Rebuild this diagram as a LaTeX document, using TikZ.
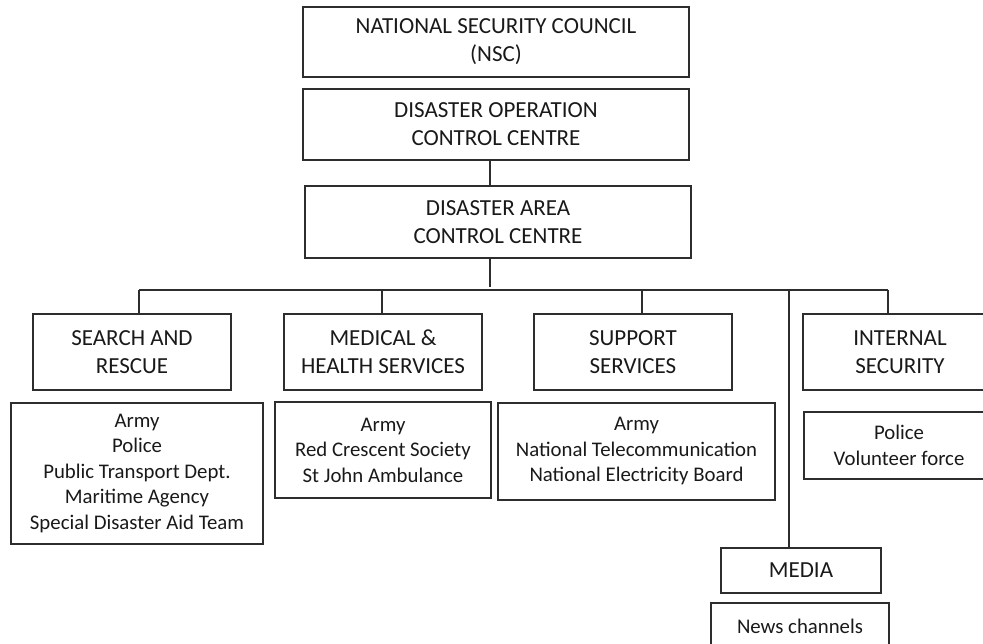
\documentclass[tikz,border=0pt]{standalone}
\usepackage{fontspec}
\setmainfont{Carlito}
\usetikzlibrary{positioning,calc}
\definecolor{inkgrey}{RGB}{45,45,45}
\tikzset{
  base/.style={align=center, inner sep=2pt, text=black!90},
  unit/.style={base, rectangle, draw=inkgrey, line width=1.6pt, font=\fontsize{23}{28}\selectfont},
  members/.style={base, rectangle, draw=inkgrey, line width=1.6pt, font=\fontsize{20.8}{25.5}\selectfont},
  link/.style={draw=inkgrey, line width=1.6pt},
}
\begin{document}
\begin{tikzpicture}[x=1pt,y=-1pt]
  \useasboundingbox (0,0) rectangle (983,644);
  \clip (0,0) rectangle (983,644);
  % command chain
  \node[unit,minimum width=386pt,minimum height=70pt] (nsc) at (496,42) {NATIONAL SECURITY COUNCIL\\(NSC)};
  \node[unit,minimum width=386pt,minimum height=71pt] (docc) at (496,124.5) {DISASTER OPERATION\\CONTROL CENTRE};
  \node[unit,minimum width=386pt,minimum height=72pt] (dacc) at (498,222) {DISASTER AREA\\CONTROL CENTRE};
  % services
  \node[unit,minimum width=198pt,minimum height=76pt] (sar) at (132,352) {SEARCH AND\\RESCUE};
  \node[unit,minimum width=198pt,minimum height=76pt] (mhs) at (383,352) {MEDICAL \&\\HEALTH SERVICES};
  \node[unit,minimum width=198pt,minimum height=76pt] (sup) at (633,352) {SUPPORT\\SERVICES};
  \node[unit,minimum width=194pt,minimum height=76pt] (isec) at (900,352) {INTERNAL\\SECURITY};
  \node[unit,minimum width=160pt,minimum height=45pt] (media) at (801,570.5) {MEDIA};
  % agencies
  \node[members,minimum width=252pt,minimum height=141pt] (sarlist) at (137,473.5) {Army\\Police\\Public Transport Dept.\\Maritime Agency\\Special Disaster Aid Team};
  \node[members,minimum width=216pt,minimum height=96pt] (mhslist) at (383,450) {Army\\Red Crescent Society\\St John Ambulance};
  \node[members,minimum width=277pt,minimum height=97pt] (suplist) at (636.5,451.5) {Army\\National Telecommunication\\National Electricity Board};
  \node[members,minimum width=190pt,minimum height=67pt] (iseclist) at (899,445.5) {Police\\Volunteer force};
  \node[members,minimum width=178pt,minimum height=46pt] (news) at (800,626) {News channels};
  % connectors
  \coordinate (busL) at (139,290);
  \coordinate (busR) at (888,290);
  \coordinate (mediadrop) at (789,290);
  \draw[link] ([xshift=-6pt]docc.south) -- ([xshift=-6pt]docc.south |- dacc.north);
  \draw[link] ([xshift=-8pt]dacc.south) -- ([xshift=-8pt,yshift=3pt]dacc.south |- busL);
  \draw[link] (busL) -- (busR);
  \draw[link] (busL) -- (busL |- sar.north);
  \draw[link] ([xshift=-1pt]mhs.north |- busL) -- ([xshift=-1pt]mhs.north);
  \draw[link] ([xshift=9pt]sup.north |- busL) -- ([xshift=9pt]sup.north);
  \draw[link] (busR) -- (busR |- isec.north);
  \draw[link] (mediadrop) -- (mediadrop |- media.north);
\end{tikzpicture}
\end{document}
